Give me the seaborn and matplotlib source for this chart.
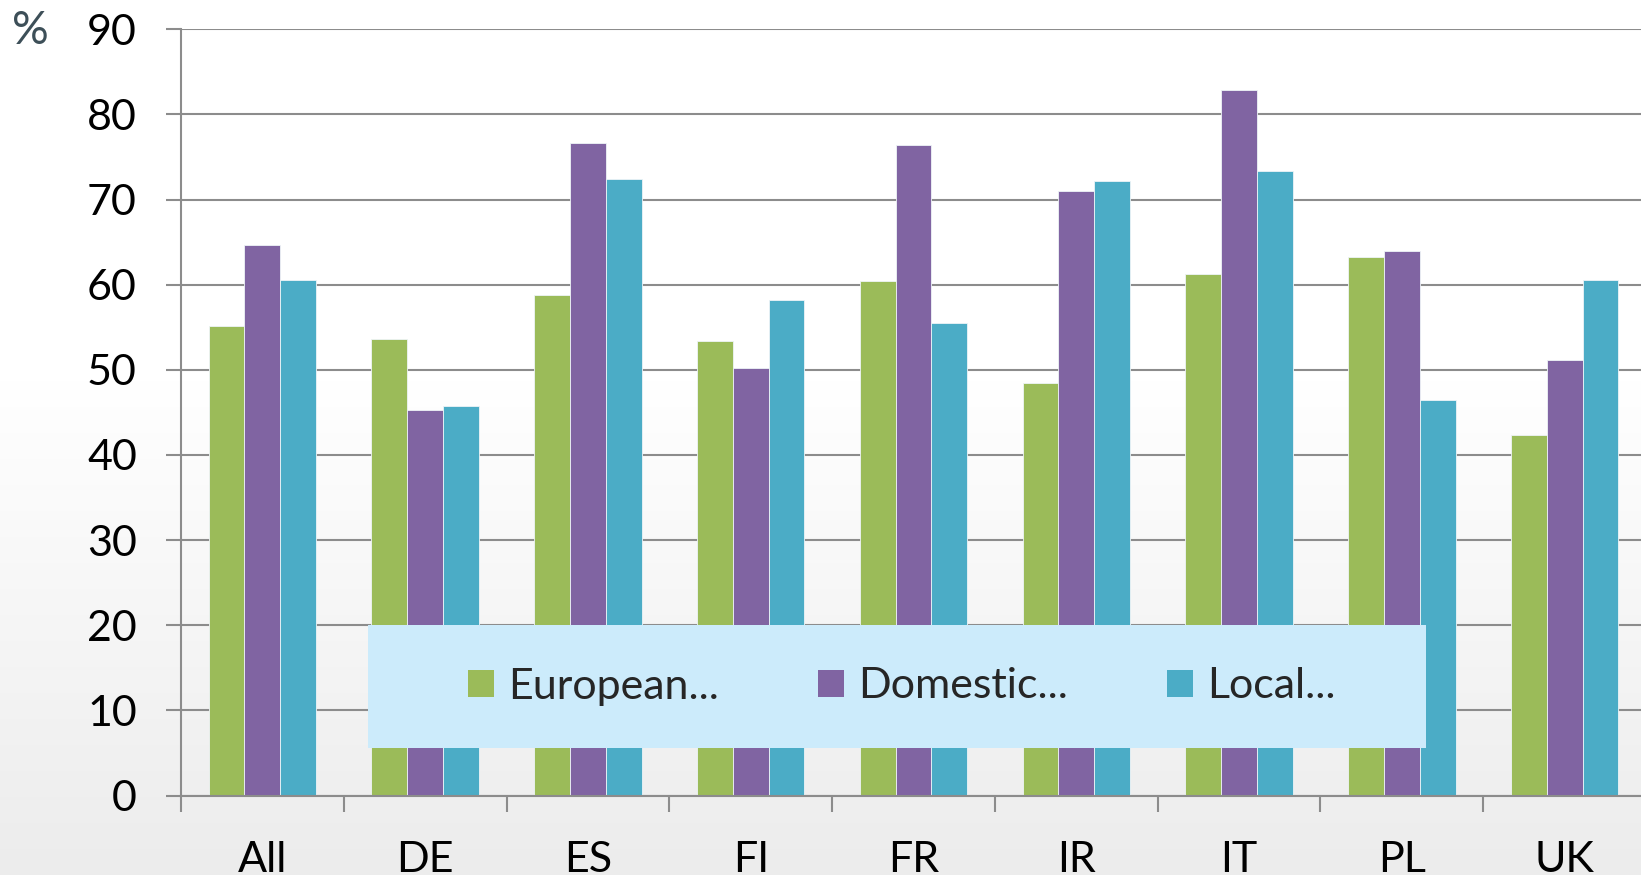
import numpy as np
import pandas as pd
import matplotlib
matplotlib.use("Agg")
import matplotlib.pyplot as plt
from matplotlib.patches import Rectangle, Patch
import seaborn as sns

categories = ["All", "DE", "ES", "FI", "FR", "IR", "IT", "PL", "UK"]
series_names = ["European...", "Domestic...", "Local..."]
european = [55.2, 53.6, 58.8, 53.4, 60.4, 48.4, 61.3, 63.3, 42.3]
domestic = [64.7, 45.3, 76.7, 50.2, 76.4, 71.0, 82.9, 64.0, 51.1]
local = [60.6, 45.7, 72.4, 58.2, 55.5, 72.2, 73.3, 46.4, 60.6]
yticks = [0, 10, 20, 30, 40, 50, 60, 70, 80, 90]
colors = ["#9BBB59", "#8064A2", "#4BACC6"]

df = pd.DataFrame({
    "country": categories * 3,
    "value": european + domestic + local,
    "series": [series_names[0]] * 9 + [series_names[1]] * 9 + [series_names[2]] * 9,
})

sns.set_theme(style="white")
plt.rcParams["font.family"] = ["Lato", "DejaVu Sans"]

W, H = 1641, 875
fig = plt.figure(figsize=(W / 100, H / 100), dpi=100)
fig.patch.set_facecolor("white")

# background gradient
bg = fig.add_axes([0, 0, 1, 1], zorder=-10)
rows = np.arange(H)
start = 380
t = np.clip((rows - start) / (H - start), 0, 1)
shade = 1 - t * (1 - 0xEC / 255)
img = np.dstack([shade, shade, shade]).reshape(H, 1, 3)
bg.imshow(img, aspect="auto", extent=[0, 1, 0, 1])
bg.set_axis_off()

ax = fig.add_axes([181 / W, 79.5 / H, 1465 / W, (845.7 - 79.5) / H])
ax.set_facecolor("none")

sns.barplot(data=df, x="country", y="value", hue="series", order=categories,
            hue_order=series_names, palette=colors, saturation=1, width=0.66,
            edgecolor="#eef4f7", linewidth=0.6, ax=ax, legend=False, errorbar=None)

ax.set_xlim(-0.5, len(categories) - 0.5)
ax.set_ylim(0, 90)
ax.set_yticks(yticks)
ax.set_yticklabels([str(v) for v in yticks])
ax.set_xlabel("")
ax.set_ylabel("")

gcol = "#8c8c8c"
ax.set_axisbelow(True)
ax.yaxis.grid(True, color=gcol, linewidth=1.5)
ax.xaxis.grid(False)
for s in ["top", "right"]:
    ax.spines[s].set_visible(False)
for s in ["left", "bottom"]:
    ax.spines[s].set_color(gcol)
    ax.spines[s].set_linewidth(1.5)

ax.tick_params(axis="y", which="major", length=10.8, width=1.5, color=gcol,
               direction="out", pad=21, labelsize=31, labelcolor="black", left=True)
ax.set_xticks(np.arange(len(categories)))
ax.set_xticklabels(categories)
ax.set_xticks(np.arange(-0.5, len(categories)), minor=True)
ax.tick_params(axis="x", which="major", length=0, pad=33, labelsize=31,
               labelcolor="black")
ax.tick_params(axis="x", which="minor", length=11.5, width=1.5, color=gcol,
               direction="out", bottom=True)

fig.text(12 / W, 1 - 10 / H, "%", fontsize=33, color="#3d4f58", ha="left", va="top",
         family=["Lato", "DejaVu Sans"])

# legend box
ax.add_patch(Rectangle((368 / W, (H - 748.3) / H), (1425.5 - 368) / W, 123.5 / H,
                       transform=fig.transFigure, facecolor="#CCEBFB", edgecolor="none",
                       zorder=4.5, clip_on=False))
handles = [Patch(facecolor=c, edgecolor="none") for c in colors]
leg = ax.legend(handles, series_names, loc="center", bbox_to_anchor=(902 / W, (H - 686.5) / H),
                bbox_transform=fig.transFigure, ncol=3, frameon=False, fontsize=31,
                handlelength=0.6, handleheight=0.6, handletextpad=0.33,
                columnspacing=2.3, borderaxespad=0)
leg.set_zorder(5)

fig.savefig("out.png", dpi=100)
